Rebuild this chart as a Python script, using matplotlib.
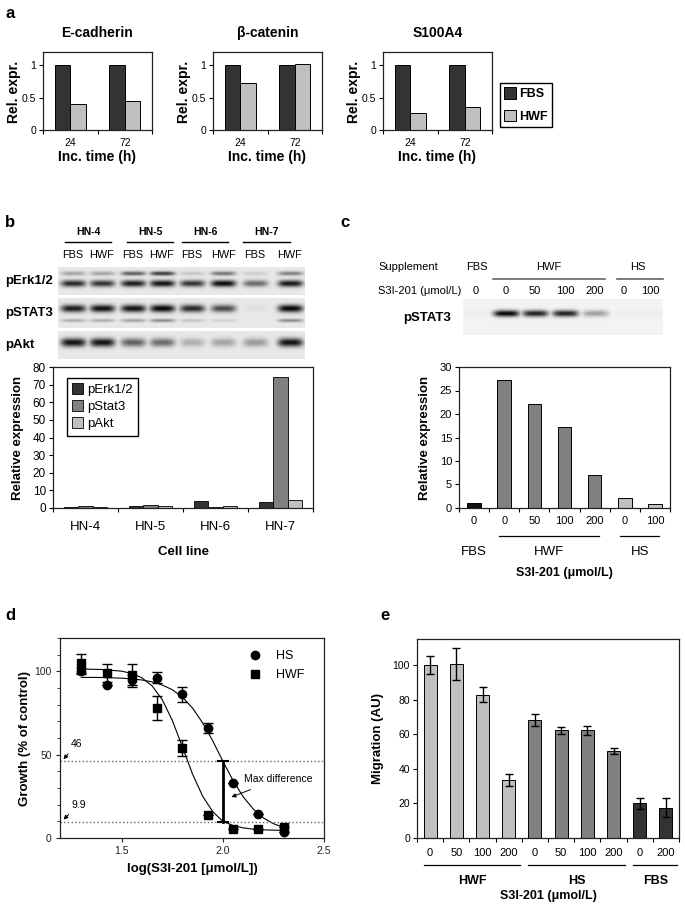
import numpy as np
import matplotlib
matplotlib.use('Agg')
import matplotlib.pyplot as plt
from matplotlib.lines import Line2D
from matplotlib.patches import Patch

plt.rcParams['font.family'] = ['Liberation Sans', 'DejaVu Sans']
plt.rcParams['axes.linewidth'] = 0.9

W, H = 685, 909

# a) qPCR, relative expression
a_genes = ['E-cadherin', 'β-catenin', 'S100A4']
a_times = ['24', '72']
a_fbs = [[1.0, 1.0], [1.0, 1.0], [1.0, 1.0]]
a_hwf = [[0.40, 0.45], [0.72, 1.01], [0.26, 0.35]]

# b) blot band intensities per lane (0 = none, 1 = saturated) and quantification
b_cells = ['HN-4', 'HN-5', 'HN-6', 'HN-7']
b_lanes = ['FBS', 'HWF'] * 4
erk_upper = [0.30, 0.30, 0.60, 0.75, 0.15, 0.50, 0.12, 0.45]
erk_lower = [0.85, 0.80, 0.90, 0.95, 0.80, 0.98, 0.55, 0.92]
stat3_main = [0.90, 0.95, 0.95, 1.00, 0.85, 0.70, 0.04, 1.00]
stat3_minor = [0.25, 0.25, 0.30, 0.40, 0.15, 0.10, 0.00, 0.40]
akt_band = [0.95, 0.95, 0.60, 0.55, 0.25, 0.30, 0.35, 0.95]
b_erk = [0.7, 1.0, 3.7, 3.3]
b_stat3 = [1.3, 1.5, 0.7, 74.5]
b_akt = [0.6, 0.9, 1.1, 4.6]

# c) pSTAT3 after S3I-201
c_supp = ['FBS', 'HWF', 'HWF', 'HWF', 'HWF', 'HS', 'HS']
c_doses = ['0', '0', '50', '100', '200', '0', '100']
c_blot = [0.03, 1.00, 0.88, 0.88, 0.35, 0.03, 0.03]
c_expr = [1.0, 27.3, 22.2, 17.3, 7.0, 2.2, 0.9]

# d) growth curves
d_logx = [1.30, 1.425, 1.55, 1.675, 1.80, 1.925, 2.05, 2.175, 2.30]
d_hs = [100.2, 91.6, 94.6, 96.2, 86.2, 66.0, 33.0, 14.6, 3.6]
d_hs_err = [2.0, 0.0, 3.0, 3.4, 4.5, 3.0, 0.0, 0.0, 0.0]
d_hwf = [104.8, 98.8, 97.6, 78.1, 54.0, 13.6, 5.6, 5.2, 6.6]
d_hwf_err = [5.8, 5.4, 7.0, 7.4, 5.0, 0.0, 0.0, 0.0, 0.0]
d_fit_x = [1.30, 1.40, 1.50, 1.55, 1.60, 1.65, 1.70, 1.75, 1.80, 1.85,
           1.90, 1.95, 2.00, 2.05, 2.10, 2.15, 2.20, 2.25, 2.30]
d_hs_fit = [96.4, 96.3, 95.9, 95.5, 94.8, 93.7, 91.8, 89.0, 84.5, 78.0,
            69.1, 58.3, 46.1, 34.6, 24.8, 17.4, 12.1, 8.6, 6.4]
d_hwf_fit = [101.4, 101.1, 100.1, 98.7, 96.1, 91.3, 83.1, 70.6, 54.7, 38.4,
             25.1, 15.8, 10.0, 7.5, 6.1, 5.3, 4.9, 4.7, 4.6]
d_hi, d_lo = 46, 9.9

# e) migration
e_groups = ['HWF'] * 4 + ['HS'] * 4 + ['FBS'] * 2
e_doses = ['0', '50', '100', '200', '0', '50', '100', '200', '0', '200']
e_migr = [100.0, 100.6, 82.8, 33.5, 68.0, 62.3, 62.3, 50.2, 20.1, 17.6]
e_err = [5.0, 9.2, 4.3, 3.3, 3.5, 2.1, 2.7, 1.9, 3.3, 5.3]

DARK, MID, LIGHT = '#333333', '#808080', '#c0c0c0'

fig = plt.figure(figsize=(W / 100, H / 100), dpi=100)


def add_ax(l, t, r, b):
    return fig.add_axes([l / W, 1 - b / H, (r - l) / W, (b - t) / H])


def ftext(x, y, s, **kw):
    kw.setdefault('ha', 'center')
    kw.setdefault('va', 'center')
    fig.text(x / W, 1 - y / H, s, **kw)


def fline(x0, x1, y, **kw):
    fig.add_artist(Line2D([x0 / W, x1 / W], [1 - y / H, 1 - y / H], **kw))


def excel_axes(ax, labels, fs, pad):
    n = len(labels)
    ax.set_xlim(-0.5, n - 0.5)
    ax.set_xticks(np.arange(n + 1) - 0.5)
    ax.set_xticklabels([])
    ax.set_xticks(np.arange(n), minor=True)
    ax.set_xticklabels(labels, minor=True, fontsize=fs)
    ax.tick_params(axis='x', which='minor', length=0, pad=pad)
    ax.tick_params(axis='x', which='major', length=3, direction='out')
    ax.tick_params(axis='y', direction='out', length=3, pad=2)
    for s in ax.spines.values():
        s.set_color('#222222')


def blot(ax, lane_x, rows, bg, band_w, width, height):
    ys = np.arange(height)[:, None]
    xs = np.arange(width)[None, :]
    dark = np.zeros((height, width))
    for yc, th, vals in rows:
        for cx, v in zip(lane_x, vals):
            prof = np.exp(-((ys - yc) / th) ** 2) * np.exp(-np.abs((xs - cx) / band_w) ** 4)
            dark = np.maximum(dark, v * prof)
    img = bg * (1 - 0.97 * dark)
    ax.imshow(img, cmap='gray', vmin=0, vmax=1, aspect='auto', interpolation='bilinear')
    ax.set_axis_off()


# ---------------- panel a ----------------
ftext(10, 13, 'a', fontsize=12, fontweight='bold')
a_boxes = [(43, 52, 152, 130), (213, 52, 322, 130), (383, 52, 492, 130)]
for gi, box in enumerate(a_boxes):
    ax = add_ax(*box)
    x = np.arange(len(a_times))
    ax.bar(x - 0.14, a_fbs[gi], 0.28, color=DARK, edgecolor='black', lw=0.7)
    ax.bar(x + 0.14, a_hwf[gi], 0.28, color=LIGHT, edgecolor='black', lw=0.7)
    excel_axes(ax, a_times, 7.5, 5.5)
    ax.set_ylim(0, 1.2)
    ax.set_yticks([0, 0.5, 1])
    ax.set_yticklabels(['0', '0.5', '1'], fontsize=7.5)
    ax.text(0.5, 1.244, a_genes[gi], fontsize=10, fontweight='bold',
            ha='center', va='center', transform=ax.transAxes)
    ax.text(-0.27, 0.49, 'Rel. expr.', rotation=90, fontsize=10, fontweight='bold',
            ha='center', va='center', transform=ax.transAxes)
    ax.text(0.5, -0.35, 'Inc. time (h)', fontsize=10, fontweight='bold',
            ha='center', va='center', transform=ax.transAxes)
fig.legend(handles=[Patch(facecolor=DARK, edgecolor='black', lw=0.7, label='FBS'),
                    Patch(facecolor=LIGHT, edgecolor='black', lw=0.7, label='HWF')],
           loc='upper left', bbox_to_anchor=(500 / W, 1 - 83 / H),
           prop={'weight': 'bold', 'size': 9}, fancybox=False, edgecolor='black',
           framealpha=1, handlelength=0.9, handleheight=1.0, handletextpad=0.25,
           labelspacing=0.75, borderpad=0.35, borderaxespad=0)

# ---------------- panel b ----------------
ftext(10, 222, 'b', fontsize=12, fontweight='bold')
hn_spans = [(65, 111), (127, 173), (182, 228), (243, 290)]
for name, (x0, x1) in zip(b_cells, hn_spans):
    ftext((x0 + x1) / 2, 232, name, fontsize=7.5, fontweight='bold')
    fline(x0, x1, 242, color='black', lw=1)
lane_px = [73, 102, 133, 162, 192, 223, 255, 290]
for lx, lab in zip(lane_px, b_lanes):
    ftext(lx, 255, lab, fontsize=7.8)
strips = [('pErk1/2', (58, 267, 305, 295), [(6, 2.2, erk_upper), (16, 3.4, erk_lower)]),
          ('pSTAT3', (58, 298, 305, 328), [(10, 3.8, stat3_main), (22, 1.8, stat3_minor)]),
          ('pAkt', (58, 331, 305, 359), [(11, 4.3, akt_band)])]
for name, box, rows in strips:
    sax = add_ax(*box)
    w, h = box[2] - box[0], box[3] - box[1]
    blot(sax, [lx - box[0] for lx in lane_px], rows, 0.91, 12.5, w, h)
    ftext(5, (box[1] + box[3]) / 2, name, fontsize=9.5, fontweight='bold', ha='left')

ax = add_ax(53, 367, 313, 508)
x = np.arange(len(b_cells))
ax.bar(x - 0.22, b_erk, 0.22, color=DARK, edgecolor='black', lw=0.6, label='pErk1/2')
ax.bar(x, b_stat3, 0.22, color=MID, edgecolor='black', lw=0.6, label='pStat3')
ax.bar(x + 0.22, b_akt, 0.22, color=LIGHT, edgecolor='black', lw=0.6, label='pAkt')
excel_axes(ax, b_cells, 9.5, 9)
ax.set_ylim(0, 80)
ax.set_yticks(np.arange(0, 81, 10))
ax.tick_params(axis='y', labelsize=8.5)
ax.text(-0.135, 0.5, 'Relative expression', rotation=90, fontsize=9.5, fontweight='bold',
        ha='center', va='center', transform=ax.transAxes)
ax.text(0.5, -0.312, 'Cell line', fontsize=9.5, fontweight='bold',
        ha='center', va='center', transform=ax.transAxes)
ax.legend(loc='upper left', bbox_to_anchor=(0.054, 0.922), fontsize=9.5, fancybox=False,
          edgecolor='black', framealpha=1, handlelength=0.8, handleheight=0.9,
          handletextpad=0.3, labelspacing=0.3, borderpad=0.4, borderaxespad=0)

# ---------------- panel c ----------------
ftext(345, 222, 'c', fontsize=12, fontweight='bold')
ftext(378, 267, 'Supplement', fontsize=8, ha='left')
ftext(378, 291, 'S3I-201 (μmol/L)', fontsize=8, ha='left')
c_lane_px = [476, 506, 535, 565, 595, 624, 650]
for lx, d in zip(c_lane_px, c_doses):
    ftext(lx, 291, d, fontsize=8)
ftext(477, 267, 'FBS', fontsize=8)
ftext(549, 267, 'HWF', fontsize=8)
ftext(638, 267, 'HS', fontsize=8)
fline(493, 605, 279, color='#666666', lw=1.2)
fline(617, 663, 279, color='#666666', lw=1.2)
bax = add_ax(463, 299, 663, 335)
blot(bax, [lx - 463 for lx in c_lane_px], [(14, 3.3, c_blot)], 0.95, 13, 200, 36)
ftext(427, 318, 'pSTAT3', fontsize=9.5, fontweight='bold')

c_colors = {'FBS': '#111111', 'HWF': MID, 'HS': LIGHT}
ax = add_ax(459, 367, 670, 508)
x = np.arange(len(c_expr))
ax.bar(x, c_expr, 0.45, color=[c_colors[s] for s in c_supp], edgecolor='black', lw=0.7)
excel_axes(ax, c_doses, 8, 6)
ax.set_ylim(0, 30)
ax.set_yticks(np.arange(0, 31, 5))
ax.tick_params(axis='y', labelsize=8)
ax.text(-0.16, 0.5, 'Relative expression', rotation=90, fontsize=9.5, fontweight='bold',
        ha='center', va='center', transform=ax.transAxes)
tr = ax.get_xaxis_transform()
for g in ['FBS', 'HWF', 'HS']:
    idx = [i for i, s in enumerate(c_supp) if s == g]
    if len(idx) > 1:
        ax.plot([idx[0] - 0.17, idx[-1] + 0.15], [-0.199, -0.199], color='black', lw=0.9,
                transform=tr, clip_on=False)
    ax.text((idx[0] + idx[-1]) / 2, -0.312, g, fontsize=9.5, ha='center', va='center',
            transform=tr)
ax.text(0.5, -0.46, 'S3I-201 (μmol/L)', fontsize=9, fontweight='bold',
        ha='center', va='center', transform=ax.transAxes)

# ---------------- panel d ----------------
ftext(10, 615, 'd', fontsize=12, fontweight='bold')
ax = add_ax(60, 638, 324, 838)
ax.plot(d_fit_x, d_hs_fit, color='black', lw=0.8)
ax.plot(d_fit_x, d_hwf_fit, color='black', lw=0.8)
ax.errorbar(d_logx, d_hs, yerr=d_hs_err, fmt='o', color='black', ms=6, capsize=3.5,
            elinewidth=1, capthick=1)
ax.errorbar(d_logx, d_hwf, yerr=d_hwf_err, fmt='s', color='black', ms=6, capsize=3.5,
            elinewidth=1, capthick=1)
ax.set_xlim(1.195, 2.5)
ax.set_ylim(0, 120)
ax.axhline(d_hi, color='#666666', ls=':', lw=1)
ax.axhline(d_lo, color='#666666', ls=':', lw=1)
ax.plot([2.0, 2.0], [d_lo, d_hi], color='black', lw=2)
ax.plot([2.0, 2.0], [d_lo, d_hi], ls='none', marker='_', ms=9, mew=1.5, color='black')
ax.set_xticks([1.5, 2.0, 2.5])
ax.set_xticklabels(['1.5', '2.0', '2.5'])
ax.set_yticks([0, 50, 100])
ax.set_yticks(np.arange(0, 121, 10), minor=True)
ax.tick_params(which='both', direction='out', length=3, labelsize=7.5, colors='#222222',
               pad=3)
ax.tick_params(which='minor', length=2.5)
for s in ax.spines.values():
    s.set_color('#222222')
arrow = dict(arrowstyle='-|>', color='black', lw=0.7, mutation_scale=6)
ax.annotate(f'{d_hi:g}', xy=(1.203, d_hi), xytext=(1.25, 53.5), fontsize=7.5,
            ha='left', va='bottom', arrowprops=arrow)
ax.annotate(f'{d_lo:g}', xy=(1.203, d_lo), xytext=(1.25, 17), fontsize=7.5,
            ha='left', va='bottom', arrowprops=arrow)
ax.annotate('Max difference', xy=(2.03, 24), xytext=(2.105, 35.5), fontsize=7.5,
            ha='left', va='center', arrowprops=dict(arrow, shrinkA=6))
handles = [Line2D([], [], marker='o', ls='none', color='black', ms=6, label='HS'),
           Line2D([], [], marker='s', ls='none', color='black', ms=6, label='HWF')]
ax.legend(handles=handles, loc='upper left', bbox_to_anchor=(0.715, 0.94), frameon=False,
          fontsize=9, handlelength=1, handletextpad=1.2, labelspacing=0.55,
          borderpad=0, borderaxespad=0)
ax.text(-0.133, 0.5, 'Growth (% of control)', rotation=90, fontsize=9.5, fontweight='bold',
        ha='center', va='center', transform=ax.transAxes)
ax.text(0.5, -0.155, 'log(S3I-201 [μmol/L])', fontsize=9.5, fontweight='bold',
        ha='center', va='center', transform=ax.transAxes)

# ---------------- panel e ----------------
ftext(385, 615, 'e', fontsize=12, fontweight='bold')
e_colors = {'HWF': LIGHT, 'HS': MID, 'FBS': DARK}
ax = add_ax(417, 639, 679, 838)
x = np.arange(len(e_migr))
ax.bar(x, e_migr, 0.5, yerr=e_err, color=[e_colors[g] for g in e_groups],
       edgecolor='black', lw=0.7, capsize=3,
       error_kw=dict(elinewidth=1, capthick=1, ecolor='black'))
excel_axes(ax, e_doses, 8, 7)
ax.set_ylim(0, 115)
ax.set_yticks(np.arange(0, 101, 20))
ax.tick_params(axis='y', labelsize=7.5)
ax.text(-0.15, 0.5, 'Migration (AU)', rotation=90, fontsize=9.5, fontweight='bold',
        ha='center', va='center', transform=ax.transAxes)
tr = ax.get_xaxis_transform()
for g in ['HWF', 'HS', 'FBS']:
    idx = [i for i, s in enumerate(e_groups) if s == g]
    ax.plot([idx[0] - 0.25, idx[-1] + 0.42], [-0.136, -0.136], color='black', lw=0.9,
            transform=tr, clip_on=False)
    ax.text((idx[0] + idx[-1]) / 2 + 0.1, -0.216, g, fontsize=9, fontweight='bold',
            ha='center', va='center', transform=tr)
ax.text(0.5, -0.29, 'S3I-201 (μmol/L)', fontsize=9, fontweight='bold',
        ha='center', va='center', transform=ax.transAxes)

fig.savefig('out.png', dpi=100)
